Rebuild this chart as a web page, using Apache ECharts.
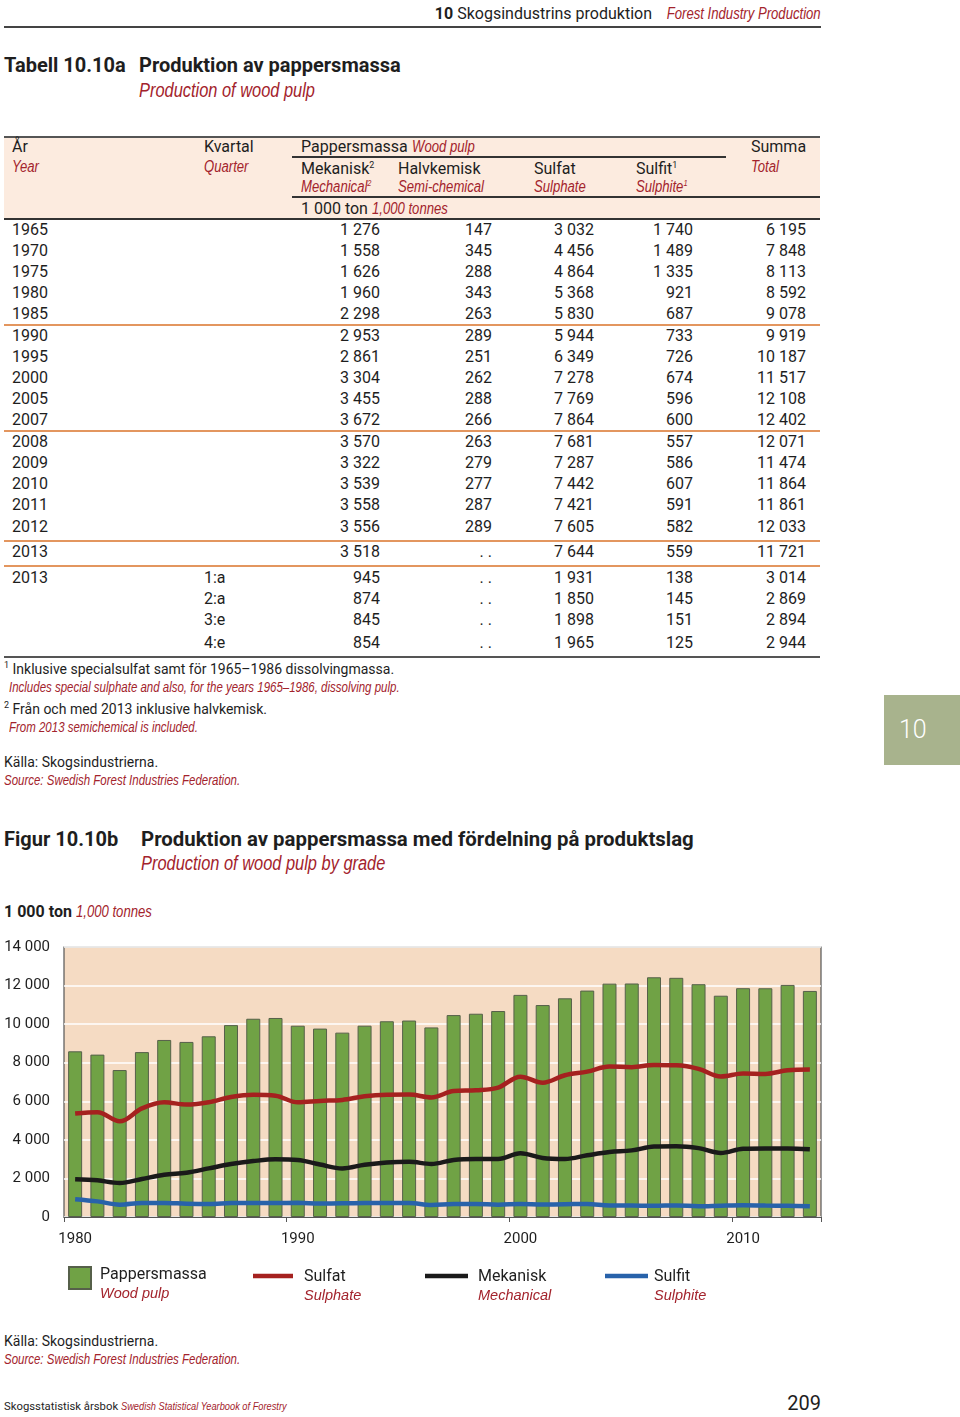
<!DOCTYPE html>
<html><head><meta charset="utf-8">
<script src="https://cdn.jsdelivr.net/npm/echarts@6/dist/echarts.min.js"></script>
<style>
body{margin:0;background:#fff;width:960px;height:1417px;position:relative;overflow:hidden;font-family:Roboto,'Noto Sans',sans-serif;color:#1e1e1e;}
.t{position:absolute;white-space:nowrap;line-height:20px;height:20px;font-size:16px;}
.it{font-family:'Liberation Sans',Arial,sans-serif;font-style:italic;color:#a3232c;transform:scaleX(0.82);transform-origin:left center;}
span.it{display:inline-block;}
.itr{transform-origin:right center;}
.b{font-weight:bold;}
.hl{position:absolute;}
sup{font-size:9px;vertical-align:6px;line-height:0;}
</style></head><body>
<div id="page"></div>
<div id="chart" style="position:absolute;left:0;top:930px;width:960px;height:390px;"></div>
<script>
// ---------- chart data ----------
const years = ['1980','1981','1982','1983','1984','1985','1986','1987','1988','1989',
  '1990','1991','1992','1993','1994','1995','1996','1997','1998','1999',
  '2000','2001','2002','2003','2004','2005','2006','2007','2008','2009',
  '2010','2011','2012','2013'];
const pappersmassa = [8592,8420,7620,8550,9180,9078,9370,9950,10280,10320,
  9919,9770,9560,9920,10150,10187,9830,10470,10540,10680,
  11517,10990,11340,11740,12100,12108,12430,12402,12071,11474,
  11864,11861,12033,11721];
const sulfat = [5368,5430,4960,5630,5950,5830,5950,6220,6340,6290,
  5944,6020,6070,6260,6340,6349,6200,6530,6570,6710,
  7278,6960,7350,7540,7800,7769,7880,7864,7681,7287,
  7442,7421,7605,7644];
const mekanisk = [1960,1900,1760,1970,2190,2298,2520,2750,2900,2990,
  2953,2720,2520,2710,2830,2861,2750,2960,3010,3010,
  3304,3060,3010,3200,3370,3455,3650,3672,3570,3322,
  3539,3558,3556,3518];
const sulfit = [921,810,640,730,730,687,670,720,730,730,
  733,700,710,720,720,726,620,670,670,640,
  674,650,660,680,600,596,580,600,557,586,
  607,591,582,559];
const yTicks = [0,2000,4000,6000,8000,10000,12000,14000];

// ---------- table data ----------
const tabYears = ['1965','1970','1975','1980','1985','1990','1995','2000','2005','2007','2008','2009','2010','2011','2012','2013','2013','','',''];
const tabQuarters = ['','','','','','','','','','','','','','','','','1:a','2:a','3:e','4:e'];
const tabMek = [1276,1558,1626,1960,2298,2953,2861,3304,3455,3672,3570,3322,3539,3558,3556,3518,945,874,845,854];
const tabHalv = [147,345,288,343,263,289,251,262,288,266,263,279,277,287,289,null,null,null,null,null];
const tabSulfat = [3032,4456,4864,5368,5830,5944,6349,7278,7769,7864,7681,7287,7442,7421,7605,7644,1931,1850,1898,1965];
const tabSulfit = [1740,1489,1335,921,687,733,726,674,596,600,557,586,607,591,582,559,138,145,151,125];
const tabTotal = [6195,7848,8113,8592,9078,9919,10187,11517,12108,12402,12071,11474,11864,11861,12033,11721,3014,2869,2894,2944];

// ---------- layout ----------
const RED = '#a3232c';
const page = document.getElementById('page');
function fmt(n){ return n==null ? '. .' : String(n).replace(/\B(?=(\d{3})+(?!\d))/g,' '); }
function txt(x, yc, html, size, cls, align){
  const d = document.createElement('div');
  d.className = 't ' + (cls||'');
  const fs = size||16;
  d.style.fontSize = fs+'px';
  d.style.lineHeight = (fs+4)+'px';
  d.style.height = (fs+4)+'px';
  d.style.top = (yc - (fs+4)/2) + 'px';
  if (align === 'right'){ d.style.right = (960 - x)+'px'; d.style.textAlign='right'; }
  else d.style.left = x+'px';
  d.innerHTML = html;
  page.appendChild(d);
  return d;
}
function hline(x1, x2, y, h, color){
  const d = document.createElement('div');
  d.className='hl';
  d.style.left=x1+'px'; d.style.width=(x2-x1)+'px';
  d.style.top=(y - h/2)+'px'; d.style.height=h+'px';
  d.style.background=color;
  page.appendChild(d);
}
function box(x,y,w,h,color){
  const d=document.createElement('div'); d.className='hl';
  d.style.left=x+'px'; d.style.top=y+'px'; d.style.width=w+'px'; d.style.height=h+'px'; d.style.background=color;
  page.appendChild(d); return d;
}

// header
txt(652, 14, '<b>10</b> Skogsindustrins produktion', 16, '', 'right');
txt(821, 14, 'Forest Industry Production', 16, 'it itr', 'right');
hline(4, 821, 27, 1.5, '#444');

// table title
txt(4, 65, 'Tabell 10.10a', 20, 'b');
txt(139, 65, 'Produktion av pappersmassa', 20, 'b');
txt(139, 90, 'Production of wood pulp', 20, 'it');

// table header
box(4, 137, 816, 82, '#fcebdf');
hline(4, 820, 137, 2, '#555');
hline(292, 726, 157, 1.2, '#333');
hline(292, 820, 197, 1.5, '#333');
hline(4, 820, 219, 2, '#333');
txt(12, 147, 'År', 16); txt(12, 167, 'Year', 16, 'it');
txt(204, 147, 'Kvartal', 16); txt(204, 167, 'Quarter', 16, 'it');
txt(301, 147, 'Pappersmassa <span class="it">Wood pulp</span>', 16);
txt(751, 147, 'Summa', 16); txt(751, 167, 'Total', 16, 'it');
txt(301, 169, 'Mekanisk<sup>2</sup>', 16); txt(301, 187, 'Mechanical<sup>2</sup>', 16, 'it');
txt(398, 169, 'Halvkemisk', 16); txt(398, 187, 'Semi-chemical', 16, 'it');
txt(534, 169, 'Sulfat', 16); txt(534, 187, 'Sulphate', 16, 'it');
txt(636, 169, 'Sulfit<sup>1</sup>', 16); txt(636, 187, 'Sulphite<sup>1</sup>', 16, 'it');
txt(301, 209, '1 000 ton <span class="it">1,000 tonnes</span>', 16);

// table body
const rowY = [230,251,272,293,314,336,357,378,399,420,442,463,484,505,527,552,578,599,620,643];
const colRight = [380,492,594,693,806];
const cols = [tabMek, tabHalv, tabSulfat, tabSulfit, tabTotal];
for (let i=0;i<rowY.length;i++){
  if (tabYears[i]) txt(12, rowY[i], tabYears[i], 16);
  if (tabQuarters[i]) txt(204, rowY[i], tabQuarters[i], 16);
  cols.forEach((c,j)=> txt(colRight[j], rowY[i], fmt(c[i]), 16, '', 'right'));
}
hline(4, 820, 325, 2, '#e3965f');
hline(4, 820, 431, 2, '#e3965f');
hline(4, 820, 541, 2, '#e3965f');
hline(4, 820, 566, 2, '#e3965f');
hline(4, 820, 657, 2.5, '#555');

// footnotes
txt(4, 669, '<sup>1</sup> Inklusive specialsulfat samt för 1965–1986 dissolvingmassa.', 14);
txt(9, 687, 'Includes special sulphate and also, for the years 1965–1986, dissolving pulp.', 14, 'it');
txt(4, 709, '<sup>2</sup> Från och med 2013 inklusive halvkemisk.', 14);
txt(9, 727, 'From 2013 semichemical is included.', 14, 'it');
txt(4, 762, 'Källa: Skogsindustrierna.', 14);
txt(4, 780, 'Source: Swedish Forest Industries Federation.', 14, 'it');

// side tab
box(884, 695, 76, 70, '#a8b38d');
const tab = txt(899, 729, '10', 25); tab.style.color='#fff'; tab.style.fontWeight='300';

// figure title
txt(4, 839, 'Figur 10.10b', 20, 'b');
txt(141, 839, 'Produktion av pappersmassa med fördelning på produktslag', 20.4, 'b');
txt(141, 863, 'Production of wood pulp by grade', 20, 'it');
txt(4, 912, '<b>1 000 ton</b> <span class="it">1,000 tonnes</span>', 16);

// source + footer
txt(4, 1341, 'Källa: Skogsindustrierna.', 14);
txt(4, 1359, 'Source: Swedish Forest Industries Federation.', 14, 'it');
txt(4, 1407, 'Skogsstatistisk årsbok <span class="it">Swedish Statistical Yearbook of Forestry</span>', 11.3);
txt(821, 1403, '209', 20, '', 'right');

// ---------- chart ----------
const chart = echarts.init(document.getElementById('chart'), null, {renderer:'canvas'});
const eng = {'Pappersmassa':'Wood pulp','Sulfat':'Sulphate','Mekanisk':'Mechanical','Sulfit':'Sulphite'};
const rich = {
  a:{fontFamily:'Roboto', fontSize:16, color:'#1e1e1e', lineHeight:19},
  b:{fontFamily:"'Liberation Sans', Arial", fontStyle:'italic', fontSize:14.5, color:RED, lineHeight:19}
};
function legendFor(name, left, top, w, h, padTop, padLeft){
  return {
    data:[name], left:left, top:top, itemWidth:w, itemHeight:h, icon:'rect', padding:0,
    formatter: n => '{a|'+n+'}\n{b|'+eng[n]+'}',
    textStyle:{rich:rich, padding:[padTop,0,0,padLeft]}
  };
}
const lineSeries = (name, data, color) => ({
  name, type:'line', data, smooth:0.35, symbol:'none',
  lineStyle:{color, width:4.5}, itemStyle:{color}, z:3
});
chart.setOption({
  animation:false,
  grid:{left:64, right:139, top:17, bottom:103, show:true, backgroundColor:'#f5dbc3', borderColor:'#555', borderWidth:1.2},
  legend:[
    legendFor('Pappersmassa', 68, 336, 22, 22, 13, 4),
    legendFor('Sulfat', 253, 339, 40, 4.5, 21, 6),
    legendFor('Mekanisk', 425, 339, 43, 4.5, 21, 5),
    legendFor('Sulfit', 605, 339, 43, 4.5, 21, 1)
  ],
  xAxis:{
    type:'category', data:years, boundaryGap:true,
    axisLine:{show:true, lineStyle:{color:'#555', width:1.2}},
    axisTick:{show:true, interval:9, alignWithLabel:false, length:5, lineStyle:{color:'#555'}},
    axisLabel:{interval:9, color:'#1e1e1e', fontSize:15, fontFamily:'Roboto', margin:15}
  },
  yAxis:{
    type:'value', min:0, max:14000, interval:2000,
    axisLine:{show:false}, axisTick:{show:false},
    splitLine:{show:true, lineStyle:{color:'#ffffff', width:1.6}},
    axisLabel:{color:'#1e1e1e', fontSize:15, fontFamily:'Roboto', margin:14,
      formatter: v => yTicks.includes(v) ? String(v).replace(/\B(?=(\d{3})+(?!\d))/g,' ') : ''}
  },
  series:[
    {name:'Pappersmassa', type:'bar', data:pappersmassa, barWidth:14,
     itemStyle:{color:'#70a245', borderColor:'#56604a', borderWidth:1}},
    lineSeries('Sulfat', sulfat, '#a5211f'),
    lineSeries('Mekanisk', mekanisk, '#1a1a1a'),
    lineSeries('Sulfit', sulfit, '#2862aa')
  ]
});
</script>
</body></html>
